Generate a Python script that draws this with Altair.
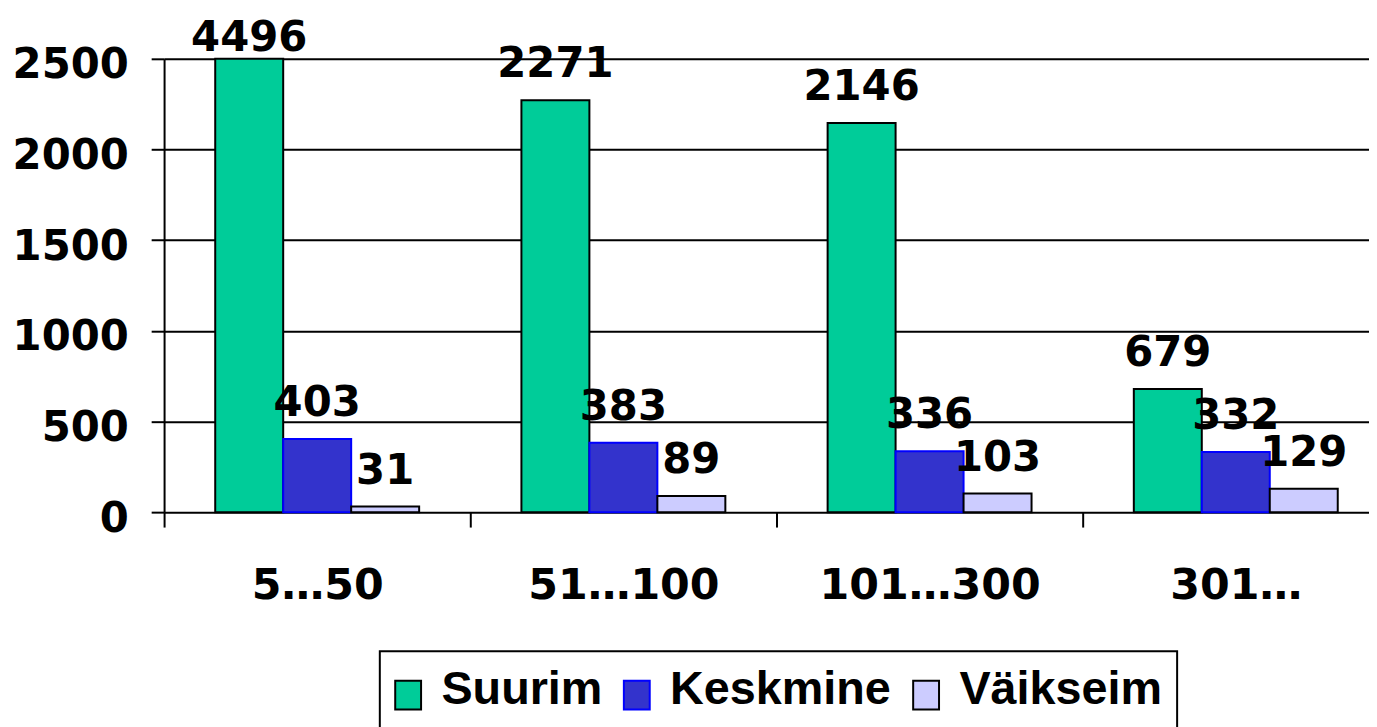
import altair as alt
import pandas as pd

categories = ["5…50", "51…100", "101…300", "301…"]
series = ["Suurim", "Keskmine", "Väikseim"]
suurim = [4496, 2271, 2146, 679]
keskmine = [403, 383, 336, 332]
vaikseim = [31, 89, 103, 129]
y_ticks = [0, 500, 1000, 1500, 2000, 2500]

fill_colors = ["#00CC99", "#3333CC", "#CCCCFF"]
stroke_colors = ["#000000", "#0000FF", "#000000"]

rows = []
for name, vals in zip(series, [suurim, keskmine, vaikseim]):
    for c, v in zip(categories, vals):
        rows.append({"cat": c, "series": name, "value": v})
df = pd.DataFrame(rows)

NUM_FONT = "DejaVu Sans"
STEP = 308

x_enc = alt.X(
    "cat:N",
    sort=categories,
    scale=alt.Scale(range=[0, STEP * 4], paddingInner=0.334, paddingOuter=0.167),
    axis=alt.Axis(
        title=None,
        labelAngle=0,
        tickOffset=-STEP / 2,
        labelOffset=STEP / 2,
        tickColor="black",
        tickWidth=2,
        tickSize=15,
        domain=False,
        grid=False,
        labelFont=NUM_FONT,
        labelFontWeight="bold",
        labelFontSize=43,
        labelColor="black",
        labelPadding=38,
        labelLimit=0,
    ),
)
xoff_enc = alt.XOffset("series:N", sort=series, scale=alt.Scale(paddingInner=0, paddingOuter=0))
y_enc = alt.Y(
    "value:Q",
    scale=alt.Scale(domain=[0, 2500], clamp=True, nice=False),
    axis=alt.Axis(
        title=None,
        values=y_ticks,
        format="d",
        grid=True,
        gridColor="black",
        gridWidth=2,
        gridOpacity=1,
        tickColor="black",
        tickWidth=2,
        tickSize=13,
        domainColor="black",
        domainWidth=2,
        labelFont=NUM_FONT,
        labelFontWeight="bold",
        labelFontSize=42,
        labelColor="black",
        labelPadding=23,
        labelOffset=6,
        labelLimit=0,
    ),
)

base = alt.Chart(df).encode(x=x_enc, xOffset=xoff_enc, y=y_enc)

bars = base.mark_bar(strokeWidth=2).encode(
    color=alt.Color("series:N", sort=series, scale=alt.Scale(domain=series, range=fill_colors), title=None),
    stroke=alt.Stroke("series:N", sort=series, scale=alt.Scale(domain=series, range=stroke_colors), title=None),
)

labels = base.mark_text(
    font=NUM_FONT, fontWeight="bold", fontSize=42, baseline="alphabetic", dy=-23, color="black"
).encode(text="value:Q").transform_filter(alt.datum.value <= 2500)

labels_top = base.mark_text(
    font=NUM_FONT, fontWeight="bold", fontSize=42, baseline="alphabetic", dy=-8, color="black"
).encode(text="value:Q").transform_filter(alt.datum.value > 2500)

chart = (
    alt.layer(bars, labels, labels_top)
    .properties(
        width=1212,
        height=456,
        autosize=alt.AutoSizeParams(type="none"),
        padding={"left": 157, "top": 49, "right": 0, "bottom": 214},
    )
    .configure_view(stroke=None)
    .configure_legend(
        orient="none",
        legendX=217,
        legendY=596,
        direction="horizontal",
        strokeColor="black",
        strokeWidth=2,
        fillColor="white",
        padding=15,
        symbolType="M-1.587,-0.655H0.207V1.345H-1.587Z",
        symbolSize=841,
        symbolStrokeWidth=2,
        symbolOpacity=1,
        labelOffset=0,
        columnPadding=17,
        labelFont="Liberation Sans",
        labelFontWeight="bold",
        labelFontSize=47,
        labelColor="black",
        labelLimit=0,
        cornerRadius=0,
    )
)

chart.save("out.html", embed_options={"renderer": "svg", "actions": False})
